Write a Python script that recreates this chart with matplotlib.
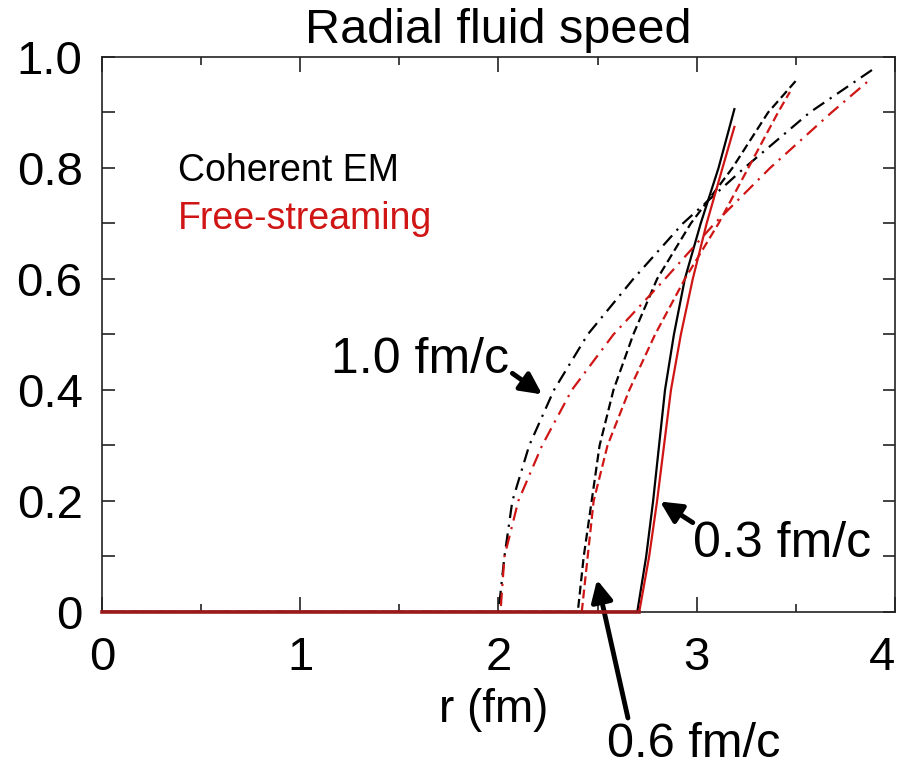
import numpy as np
import matplotlib
matplotlib.use("Agg")
import matplotlib.pyplot as plt
from matplotlib.ticker import MultipleLocator

plt.rcParams['font.family'] = ['Liberation Sans', 'DejaVu Sans']

# radial speed curves (r in fm, v in c)
# t = 0.3 fm/c
r_em_03 = [0, 2.70, 2.745, 2.78, 2.81, 2.84, 2.885, 2.94, 3.02, 3.11, 3.19]
v_em_03 = [0, 0, 0.1, 0.2, 0.3, 0.4, 0.5, 0.6, 0.7, 0.8, 0.906]
r_fs_03 = [0, 2.71, 2.76, 2.80, 2.835, 2.87, 2.92, 2.98, 3.05, 3.13, 3.19]
v_fs_03 = [0, 0, 0.1, 0.2, 0.3, 0.4, 0.5, 0.6, 0.7, 0.8, 0.874]
# t = 0.6 fm/c
r_em_06 = [0, 2.40, 2.43, 2.47, 2.51, 2.58, 2.68, 2.80, 2.97, 3.18, 3.36, 3.50]
v_em_06 = [0, 0, 0.1, 0.2, 0.3, 0.4, 0.5, 0.6, 0.7, 0.8, 0.9, 0.957]
r_fs_06 = [0, 2.42, 2.45, 2.48, 2.55, 2.66, 2.79, 2.94, 3.11, 3.26, 3.41, 3.47]
v_fs_06 = [0, 0, 0.1, 0.2, 0.3, 0.4, 0.5, 0.6, 0.7, 0.8, 0.9, 0.937]
# t = 1.0 fm/c
r_em_10 = [0, 2.00, 2.03, 2.07, 2.155, 2.28, 2.45, 2.68, 2.93, 3.24, 3.57, 3.89]
v_em_10 = [0, 0, 0.1, 0.2, 0.3, 0.4, 0.5, 0.6, 0.7, 0.8, 0.9, 0.978]
r_fs_10 = [0, 2.01, 2.03, 2.10, 2.22, 2.37, 2.58, 2.84, 3.09, 3.37, 3.68, 3.86]
v_fs_10 = [0, 0, 0.1, 0.2, 0.3, 0.4, 0.5, 0.6, 0.7, 0.8, 0.9, 0.955]

BLACK = 'black'
RED = '#d01515'

fig = plt.figure(figsize=(9.02, 7.72), dpi=100)
ax = fig.add_axes([0.1131, 0.2073, 0.8791, 0.7189])

dash = (4, 2)
dashdot = (6, 3, 1, 3)
lw = 1.6

ax.plot(r_em_10, v_em_10, color=BLACK, lw=lw, dashes=dashdot, zorder=3)
ax.plot(r_em_06, v_em_06, color=BLACK, lw=lw, dashes=dash, zorder=3)
ax.plot(r_em_03, v_em_03, color=BLACK, lw=lw, zorder=3)
ax.plot(r_fs_10, v_fs_10, color=RED, lw=lw, dashes=dashdot, zorder=4)
ax.plot(r_fs_06, v_fs_06, color=RED, lw=lw, dashes=dash, zorder=4)
ax.plot(r_fs_03, v_fs_03, color=RED, lw=lw, zorder=4)
# the zero part of the curves sits on the axis: show it as one solid dark red line
ax.plot(r_fs_03[:2], v_fs_03[:2], color='#9a1a1a', lw=2.6, zorder=5, clip_on=False)

ax.set_xlim(0, 4)
ax.set_ylim(0, 1.0)
ax.set_xticks([0, 1, 2, 3, 4])
ax.set_xticklabels(['0', '1', '2', '3', '4'])
ax.set_yticks([0, 0.2, 0.4, 0.6, 0.8, 1.0])
ax.set_yticklabels(['0', '0.2', '0.4', '0.6', '0.8', '1.0'])
ax.xaxis.set_minor_locator(MultipleLocator(0.5))
ax.yaxis.set_minor_locator(MultipleLocator(0.1))
ax.tick_params(which='both', direction='in', top=True, right=True, width=1.2, color='#222222')
ax.tick_params(axis='x', which='major', length=11, pad=17, labelsize=34)
ax.tick_params(axis='x', which='minor', length=6)
ax.tick_params(axis='y', which='both', length=9, pad=14, labelsize=34)
# keep the last x label inside the figure
ax.get_xticklabels()[-1].set_horizontalalignment('right')
for s in ax.spines.values():
    s.set_linewidth(1.2)
    s.set_color('#222222')

# title and axis label
ax.text(0.5, 1.025, 'Radial fluid speed', transform=ax.transAxes,
        ha='center', va='baseline', fontsize=35)
ax.text(1.977, -0.199, 'r (fm)', ha='center', va='baseline', fontsize=33,
        clip_on=False)

# legend as coloured text
ax.text(0.383, 0.776, 'Coherent EM', color=BLACK, fontsize=27, va='baseline')
ax.text(0.383, 0.690, 'Free-streaming', color=RED, fontsize=27, va='baseline')

# time labels with arrows
arrow = dict(arrowstyle='-|>', lw=3.5, color='black', mutation_scale=32,
             shrinkA=0, shrinkB=0)
ax.text(1.604, 0.431, '1.0 fm/c', ha='center', va='baseline', fontsize=36)
ax.annotate('', xy=(2.22, 0.392), xytext=(2.07, 0.43), arrowprops=arrow)
ax.text(3.43, 0.099, '0.3 fm/c', ha='center', va='baseline', fontsize=36)
ax.annotate('', xy=(2.815, 0.199), xytext=(2.98, 0.161), arrowprops=arrow)
ax.text(2.986, -0.262, '0.6 fm/c', ha='center', va='baseline', fontsize=35,
        clip_on=False)
ax.annotate('', xy=(2.497, 0.058), xytext=(2.653, -0.191), arrowprops=arrow,
            annotation_clip=False)

fig.savefig('out.png', dpi=100)
